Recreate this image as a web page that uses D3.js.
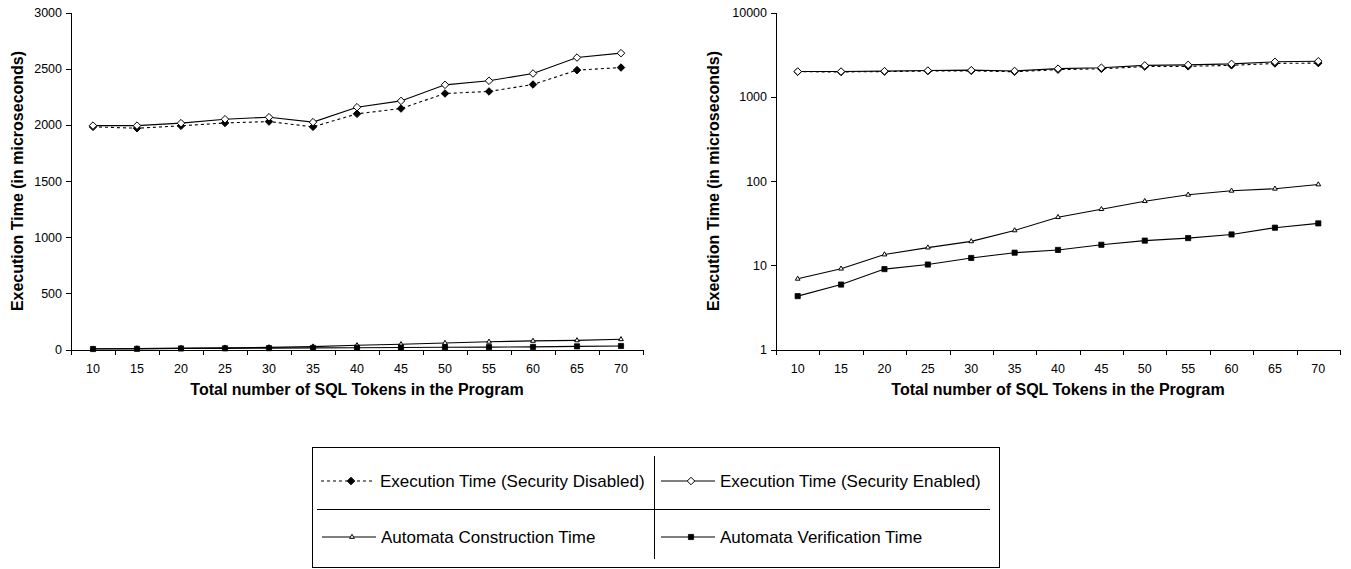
<!DOCTYPE html>
<html lang="en">
<head>
<meta charset="UTF-8">
<title>Execution Time vs SQL Tokens</title>
<script src="https://d3js.org/d3.v7.min.js"></script>
<style>
  body { margin: 0; background: #fff; }
  svg { display: block; font-family: Arial, "Liberation Sans", sans-serif; }
  .tick text { font-size: 12.5px; fill: #000; }
  .axis path, .axis line { stroke: #000; shape-rendering: crispEdges; }
  .axis-title { font-size: 16px; font-weight: bold; fill: #000; }
  .legend-text { font-size: 17px; fill: #000; }
</style>
</head>
<body>
<svg id="chart" width="1351" height="569"></svg>
<script>
// data
const tokens = ["10", "15", "20", "25", "30", "35", "40", "45", "50", "55", "60", "65", "70"];
const secDisabled = [1982, 1970, 1991, 2017, 2029, 1982, 2098, 2145, 2279, 2297, 2359, 2487, 2510];
const secEnabled = [1993, 1993, 2015, 2050, 2068, 2024, 2157, 2213, 2356, 2392, 2457, 2599, 2638];
const construction = [6.9, 9.1, 13.4, 16.2, 19.2, 25.9, 37.2, 46.3, 57.6, 68.6, 76.5, 80.9, 90.9];
const verification = [4.3, 5.9, 9.0, 10.2, 12.2, 14.1, 15.2, 17.5, 19.6, 21.0, 23.2, 27.9, 31.4];
const linearTicks = [0, 500, 1000, 1500, 2000, 2500, 3000];
const logTicks = [1, 10, 100, 1000, 10000];

const series = [
  { name: "Execution Time (Security Disabled)", values: secDisabled, dash: "3,3", marker: "diamond", fill: "#000" },
  { name: "Execution Time (Security Enabled)", values: secEnabled, dash: null, marker: "diamond", fill: "#fff" },
  { name: "Automata Construction Time", values: construction, dash: null, marker: "triangle", fill: "#fff" },
  { name: "Automata Verification Time", values: verification, dash: null, marker: "square", fill: "#000" }
];

const svg = d3.select("#chart");
const plotTop = 12.5, plotBottom = 349.5;

function marker(sel, type, fill) {
  const sym = type === "diamond" ? d3.symbolDiamond2 : type === "square" ? d3.symbolSquare2 : d3.symbolTriangle2;
  const size = type === "diamond" ? 36 : type === "square" ? 34 : 16;
  sel.attr("d", d3.symbol(sym, size)())
    .attr("fill", fill)
    .attr("stroke", "#000")
    .attr("stroke-width", type === "square" ? 0.8 : 1);
}

function drawPanel(left, right, y, yTicks, titleX) {
  const x = d3.scaleBand().domain(tokens).range([left, right]);
  const g = svg.append("g");

  // y axis
  g.append("g").attr("class", "axis")
    .attr("transform", `translate(${left},0)`)
    .call(d3.axisLeft(y).tickValues(yTicks).tickFormat(d3.format("d")).tickSize(5).tickSizeOuter(0).tickPadding(4));

  // x axis (labels centred in bands, ticks on band edges)
  const xa = g.append("g").attr("class", "axis")
    .attr("transform", `translate(0,${plotBottom})`)
    .call(d3.axisBottom(x).tickSize(0).tickSizeOuter(0).tickPadding(15));
  const edges = tokens.map(t => x(t)).concat([x.range()[1]]);
  xa.selectAll(".edge").data(edges).enter().append("line")
    .attr("x1", d => Math.round(d) + 0.5).attr("x2", d => Math.round(d) + 0.5)
    .attr("y1", 0).attr("y2", 5).attr("stroke", "#000");

  const line = d3.line()
    .x((d, i) => x(tokens[i]) + x.bandwidth() / 2)
    .y(d => y(d));

  series.forEach(s => {
    g.append("path")
      .attr("d", line(s.values))
      .attr("fill", "none")
      .attr("stroke", "#000")
      .attr("stroke-width", 1.1)
      .attr("stroke-dasharray", s.dash);
    g.selectAll(null).data(s.values).enter().append("path")
      .attr("transform", (d, i) => `translate(${x(tokens[i]) + x.bandwidth() / 2},${y(d)})`)
      .call(marker, s.marker, s.fill);
  });

  // titles
  g.append("text").attr("class", "axis-title")
    .attr("x", (left + right) / 2).attr("y", 395)
    .attr("text-anchor", "middle")
    .text("Total number of SQL Tokens in the Program");
  g.append("text").attr("class", "axis-title")
    .attr("transform", `translate(${titleX},${(plotTop + plotBottom) / 2}) rotate(-90)`)
    .attr("text-anchor", "middle")
    .text("Execution Time (in microseconds)");
}

drawPanel(71, 643, d3.scaleLinear().domain([0, 3000]).range([plotBottom, plotTop]), linearTicks, 23);
drawPanel(776, 1340, d3.scaleLog().domain([1, 10000]).range([plotBottom, plotTop]), logTicks, 719);

// legend
const lg = svg.append("g");
lg.append("rect").attr("x", 312.5).attr("y", 447.5).attr("width", 687).attr("height", 120)
  .attr("fill", "#fff").attr("stroke", "#000");
lg.append("line").attr("x1", 317).attr("x2", 990).attr("y1", 509.5).attr("y2", 509.5).attr("stroke", "#000");
lg.append("line").attr("x1", 654.5).attr("x2", 654.5).attr("y1", 456).attr("y2", 559).attr("stroke", "#000");

const cells = [[321, 481], [661, 481], [322, 537], [661, 537]];
series.forEach((s, i) => {
  const [cx, cy] = cells[i];
  const item = lg.append("g").attr("transform", `translate(${cx},${cy})`);
  item.append("line").attr("x1", 0).attr("x2", 54).attr("y1", 0).attr("y2", 0)
    .attr("stroke", "#000").attr("stroke-width", 1.1).attr("stroke-dasharray", s.dash);
  item.append("path").attr("transform", "translate(30,0)").call(marker, s.marker, s.fill);
  item.append("text").attr("class", "legend-text")
    .attr("x", 59).attr("y", 0).attr("dy", "0.36em")
    .text(s.name);
});
</script>
</body>
</html>
